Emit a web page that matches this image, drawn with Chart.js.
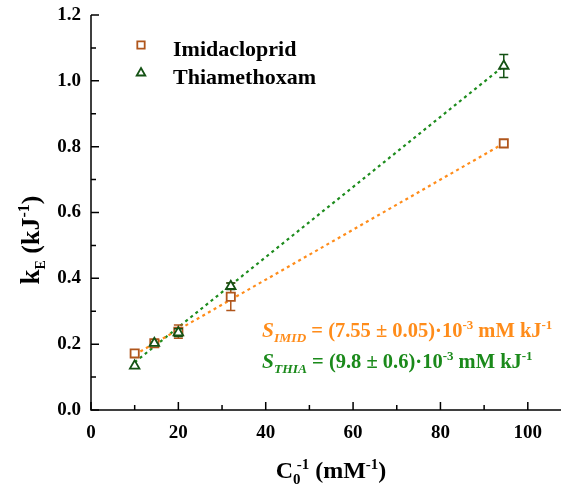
<!DOCTYPE html>
<html><head><meta charset="utf-8">
<script src="https://cdn.jsdelivr.net/npm/chart.js@4.4.1/dist/chart.umd.min.js"></script>
<style>html,body{margin:0;padding:0;background:#fff;}#wrap{width:562px;height:490px;position:relative;}</style>
</head><body><div id="wrap"><canvas id="c"></canvas></div>
<script>
const xValues = [10, 14.5, 20, 32, 94.5];
const imidValues = [0.172, 0.203, 0.238, 0.344, 0.81];
const imidErrors = [0, 0, 0.02, 0.042, 0];
const thiaValues = [0.134, 0.203, 0.235, 0.376, 1.045];
const thiaErrors = [0, 0, 0.012, 0.01, 0.035];
const fitX = [10, 94.5];
const imidFit = [0.168, 0.81];
const thiaFit = [0.145, 1.045];
const xTickValues = [0, 20, 40, 60, 80, 100];
const xMinorTicks = [10, 30, 50, 70, 90];
const yTickValues = [0, 0.2, 0.4, 0.6, 0.8, 1.0, 1.2];
const yMinorTicks = [0.1, 0.3, 0.5, 0.7, 0.9, 1.1];
const legendLabels = ['Imidacloprid', 'Thiamethoxam'];

const FONT = '"Liberation Serif", "Times New Roman", serif';
const C_IMID_MARK = '#b0561c';
const C_THIA_MARK = '#145214';
const C_IMID_LINE = '#ff8c1a';
const C_THIA_LINE = '#1e8c1e';
const C_IMID_TXT = '#ff8c1a';
const C_THIA_TXT = '#1b8a1b';

const annImid = [
  {t:'S', size:21.5, italic:true},
  {t:'IMID', size:13.5, italic:true, dy:5},
  {t:' = (7.55 ± 0.05)·10', size:20.5},
  {t:'-3', size:13, dy:-8},
  {t:' mM kJ', size:20.5},
  {t:'-1', size:13, dy:-8}
];
const annThia = [
  {t:'S', size:21.5, italic:true},
  {t:'THIA', size:13.5, italic:true, dy:5},
  {t:' = (9.8 ± 0.6)·10', size:20.5},
  {t:'-3', size:13, dy:-8},
  {t:' mM kJ', size:20.5},
  {t:'-1', size:13, dy:-8}
];
const xTitle = [
  {t:'C', size:24},
  {t:'0', size:15, dy:6, noAdvance:true},
  {t:' -1', size:15, dy:-9},
  {t:' (mM', size:24},
  {t:'-1', size:15, dy:-9},
  {t:')', size:24}
];
const yTitle = [
  {t:'k', size:27},
  {t:'E', size:14, dy:6},
  {t:' (kJ', size:26},
  {t:'-1', size:16, dy:-10},
  {t:')', size:26}
];

function setFont(ctx, p){ ctx.font = (p.italic?'italic ':'') + 'bold ' + p.size + 'px ' + FONT; }
function measureRich(ctx, parts){
  let w = 0;
  for (const p of parts){ setFont(ctx,p); if(!p.noAdvance) w += ctx.measureText(p.t).width; }
  return w;
}
function drawRich(ctx, x, y, parts, color){
  ctx.save(); ctx.fillStyle=color; ctx.textAlign='left'; ctx.textBaseline='alphabetic';
  for (const p of parts){
    setFont(ctx,p);
    ctx.fillText(p.t, x, y + (p.dy||0));
    if(!p.noAdvance) x += ctx.measureText(p.t).width;
  }
  ctx.restore();
}

const decorPlugin = {
  id:'decor',
  beforeDatasetDraw(chart, args){
    const ds = chart.data.datasets[args.index];
    if (!ds.errors) return;
    const ctx = chart.ctx, xs = chart.scales.x, ys = chart.scales.y;
    ctx.save(); ctx.strokeStyle = ds.borderColor; ctx.lineWidth = 1.5;
    ds.data.forEach((pt,i)=>{
      const e = ds.errors[i]; if(!e) return;
      const px = xs.getPixelForValue(pt.x);
      const y1 = ys.getPixelForValue(pt.y+e), y2 = ys.getPixelForValue(pt.y-e);
      ctx.beginPath();
      ctx.moveTo(px,y1); ctx.lineTo(px,y2);
      ctx.moveTo(px-4.5,y1); ctx.lineTo(px+4.5,y1);
      ctx.moveTo(px-4.5,y2); ctx.lineTo(px+4.5,y2);
      ctx.stroke();
    });
    ctx.restore();
  },
  afterDraw(chart){
    const ctx = chart.ctx, xs = chart.scales.x, ys = chart.scales.y, a = chart.chartArea;
    ctx.save();
    ctx.strokeStyle='#000'; ctx.lineWidth=1.5;
    ctx.beginPath();
    ctx.moveTo(a.left, a.top); ctx.lineTo(a.left, a.bottom); ctx.lineTo(a.right, a.bottom);
    ctx.stroke();
    ctx.beginPath();
    xTickValues.forEach(v=>{const p=xs.getPixelForValue(v); ctx.moveTo(p,a.bottom); ctx.lineTo(p,a.bottom-8);});
    xMinorTicks.forEach(v=>{const p=xs.getPixelForValue(v); ctx.moveTo(p,a.bottom); ctx.lineTo(p,a.bottom-5);});
    yTickValues.forEach(v=>{const p=ys.getPixelForValue(v); ctx.moveTo(a.left,p); ctx.lineTo(a.left+8,p);});
    yMinorTicks.forEach(v=>{const p=ys.getPixelForValue(v); ctx.moveTo(a.left,p); ctx.lineTo(a.left+5,p);});
    ctx.stroke();
    ctx.restore();

    const marks = [chart.data.datasets[2], chart.data.datasets[3]];
    const lx = 141, ly = [45, 73];
    marks.forEach((ds,i)=>{
      ctx.save();
      ctx.fillStyle='#fff'; ctx.strokeStyle=ds.borderColor; ctx.lineWidth=ds.borderWidth;
      Chart.helpers.drawPoint(ctx, {pointStyle: ds.pointStyle, radius: ds.pointRadius*0.9, borderWidth: ds.borderWidth}, lx, ly[i]);
      ctx.restore();
      ctx.save(); ctx.fillStyle='#000'; ctx.font='bold 22px '+FONT; ctx.textBaseline='alphabetic';
      ctx.fillText(legendLabels[i], 173, ly[i]+11);
      ctx.restore();
    });

    drawRich(ctx, 262, 337, annImid, C_IMID_TXT);
    drawRich(ctx, 262, 368, annThia, C_THIA_TXT);

    const wx = measureRich(ctx, xTitle);
    drawRich(ctx, 331 - wx/2, 478, xTitle, '#000');

    const wy = measureRich(ctx, yTitle);
    ctx.save(); ctx.translate(39, 240); ctx.rotate(-Math.PI/2);
    drawRich(ctx, -wy/2, 0, yTitle, '#000');
    ctx.restore();
  }
};

new Chart(document.getElementById('c'), {
  type:'scatter',
  data:{
    datasets:[
      {type:'line', label:'fitImid', data: fitX.map((x,i)=>({x, y:imidFit[i]})), borderColor:C_IMID_LINE, borderWidth:2.2, borderDash:[3,3.5], pointRadius:0, fill:false, order:3},
      {type:'line', label:'fitThia', data: fitX.map((x,i)=>({x, y:thiaFit[i]})), borderColor:C_THIA_LINE, borderWidth:2.2, borderDash:[3,3.5], pointRadius:0, fill:false, order:4},
      {label:legendLabels[0], data: xValues.map((x,i)=>({x, y:imidValues[i]})), errors: imidErrors, pointStyle:'rect', pointRadius:5.8, borderWidth:1.8, borderColor:C_IMID_MARK, backgroundColor:'#fff', order:2},
      {label:legendLabels[1], data: xValues.map((x,i)=>({x, y:thiaValues[i]})), errors: thiaErrors, pointStyle:'triangle', pointRadius:5.5, borderWidth:1.8, borderColor:C_THIA_MARK, backgroundColor:'#fff', order:1}
    ]
  },
  options:{
    responsive:true, maintainAspectRatio:false, animation:false,
    layout:{autoPadding:false, padding:{top:15, right:1, left:0, bottom:0}},
    plugins:{legend:{display:false}, tooltip:{enabled:false}},
    scales:{
      x:{type:'linear', min:0, max:107.6,
        grid:{display:false, drawTicks:false}, border:{display:false},
        afterBuildTicks(s){ s.ticks = xTickValues.map(v=>({value:v})); },
        afterFit(s){ s.height = 80; s.paddingLeft = 0; s.paddingRight = 0; },
        ticks:{padding:12, color:'#000', font:{family:FONT, size:19, weight:'bold'}, callback:v=>String(v), maxRotation:0}
      },
      y:{type:'linear', min:0, max:1.2,
        grid:{display:false, drawTicks:false}, border:{display:false},
        afterBuildTicks(s){ s.ticks = yTickValues.map(v=>({value:v})); },
        afterFit(s){ s.width = 91; s.paddingTop = 0; s.paddingBottom = 0; },
        ticks:{padding:10, color:'#000', font:{family:FONT, size:19, weight:'bold'}, callback:v=>Number(v).toFixed(1)}
      }
    }
  },
  plugins:[decorPlugin]
});
</script></body></html>
